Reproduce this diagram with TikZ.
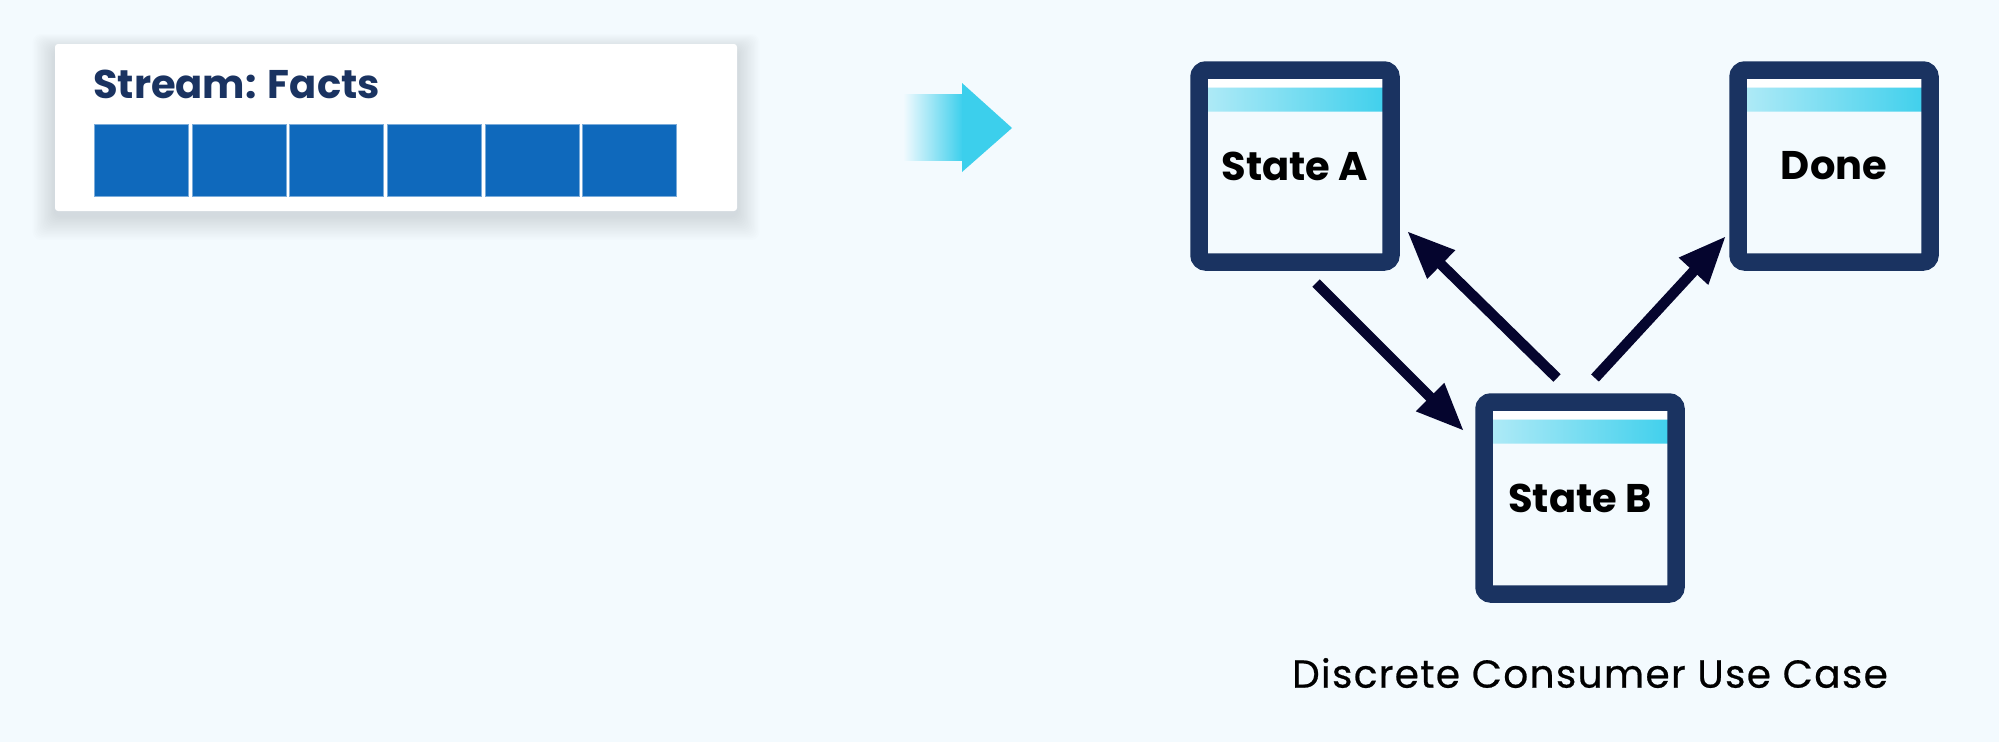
\documentclass[tikz,border=0pt]{standalone}
\usepackage{fontspec}
\setmainfont{Poppins}
\usetikzlibrary{arrows.meta}
\definecolor{bg}{HTML}{F3FAFE}
\definecolor{navy}{HTML}{1A3361}
\definecolor{ink}{HTML}{05052E}
\definecolor{cyanhi}{HTML}{3CCFEC}
\definecolor{cyanlo}{HTML}{B3EBF7}
\definecolor{factblue}{HTML}{0F69BC}

\begin{document}
\begin{tikzpicture}[x=1pt,y=-1pt,
  state/.style={draw=navy,line width=17.5pt,fill=bg,rounded corners=7pt,
    minimum width=192pt,minimum height=192pt,inner sep=0pt,outer sep=0pt,
    font=\fontsize{40}{40}\selectfont\bfseries,
    path picture={
      \fill[white] (path picture bounding box.north west) rectangle ([yshift=-17.5pt]path picture bounding box.north east);
      \shade[left color=cyanlo,right color=cyanhi] ([yshift=-17.5pt]path picture bounding box.north west) rectangle ([yshift=-41.5pt]path picture bounding box.north east);}},
  flow/.style={draw=ink,line width=10.5pt,-{Triangle[length=48pt,width=37pt]}},
  fact/.style={fill=factblue,draw=factblue!55!white,line width=0.8pt,
    minimum width=94pt,minimum height=72pt,inner sep=0pt}]
\fill[bg] (0,0) rectangle (1999,742);
\useasboundingbox (0,0) rectangle (1999,742);
\foreach \i in {1,...,16}
  \fill[navy,opacity=0.006,rounded corners=8pt] (55-1.4*\i,50-\i) rectangle (737+1.4*\i,216+1.5*\i);
\node[fill=white,rounded corners=3pt,minimum width=682pt,minimum height=167pt,inner sep=0pt] (card) at (396,127.5) {};
\node[anchor=base west,text=navy,inner sep=0pt,font=\fontsize{40}{40}\selectfont\bfseries] (title) at (93,98) {Stream: Facts};
\foreach \i in {0,...,5}
  \node[fact] (f\i) at (141.3+\i*97.7,160) {};
\shade[left color=bg,right color=cyanhi] (903,94) rectangle (963,160);
\fill[cyanhi] (962,83) -- (1012,128) -- (962,172) -- cycle;
\node[state] (sa) at (1295,166) {State A};
\node[state] (done) at (1834,166) {Done};
\node[state] (sb) at (1580,498) {State B};
\draw[flow] ([shift={(21,21)}]sa.south) -- ([shift={(-20,29)}]sb.north west);
\draw[flow] ([shift={(-23,-24)}]sb.north) -- ([shift={(16,-31)}]sa.south east);
\draw[flow] ([shift={(15,-24)}]sb.north) -- ([shift={(-12,-26)}]done.south west);
\node[font=\fontsize{39}{40}\selectfont\addfontfeatures{FakeBold=0.6,LetterSpace=3.5}] (caption) at (1590,673) {Discrete Consumer Use Case};
\end{tikzpicture}
\end{document}
